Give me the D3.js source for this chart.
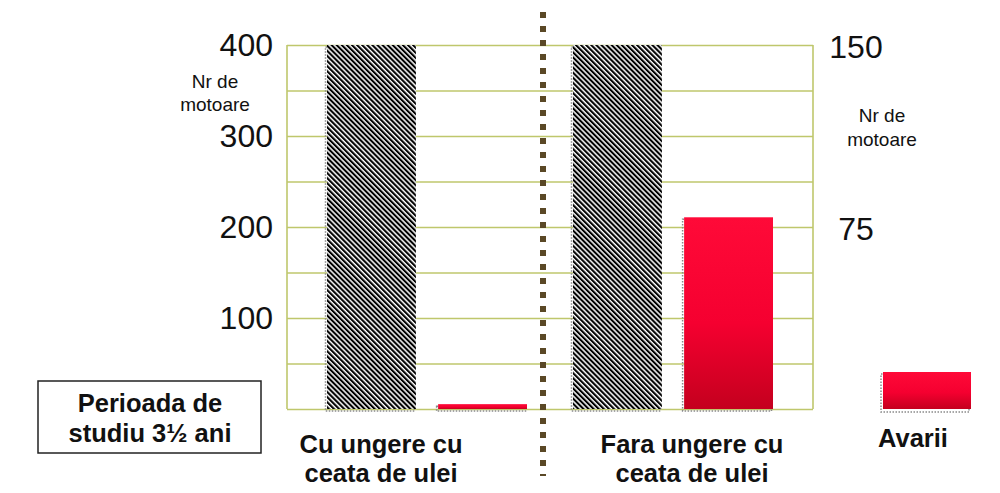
<!DOCTYPE html>
<html>
<head>
<meta charset="utf-8">
<script src="https://cdn.jsdelivr.net/npm/d3@7"></script>
<style>
  body { margin: 0; background: #fff; }
  text { font-family: "Liberation Sans", Arial, sans-serif; fill: #111; }
</style>
</head>
<body>
<div class="chart"></div>
<script>
// data
const groups = ["Cu ungere cu ceata de ulei", "Fara ungere cu ceata de ulei"];
const series = ["Motoare", "Avarii"];
const motoare = [400, 400];      // left axis
const avarii = [2, 79];          // right axis
const leftTicks = [100, 200, 300, 400];
const rightTicks = [75, 150];
const gridTicks = [0, 50, 100, 150, 200, 250, 300, 350, 400];
const groupLabels = [["Cu ungere cu", "ceata de ulei"], ["Fara ungere cu", "ceata de ulei"]];

const W = 1000, H = 493;
const plot = {left: 287, right: 813, top: 45, bottom: 409};
// label centre, relative to group start
const labelShift = [54, 119];

const svg = d3.select('.chart').append('svg')
    .attr('width', W)
    .attr('height', H);

const defs = svg.append('defs');

// diagonal hatch
const hatch = defs.append('pattern')
    .attr('id', 'hatch')
    .attr('patternUnits', 'userSpaceOnUse')
    .attr('width', 3.6)
    .attr('height', 3.6)
    .attr('patternTransform', 'rotate(-45)');
hatch.append('rect').attr('width', 3.6).attr('height', 3.6).attr('fill', '#fff');
hatch.append('rect').attr('width', 2.1).attr('height', 3.6).attr('fill', '#000');

// red gradient
const grad = defs.append('linearGradient')
    .attr('id', 'red')
    .attr('x1', 0).attr('y1', 0).attr('x2', 0).attr('y2', 1);
grad.append('stop').attr('offset', '0%').attr('stop-color', '#ff0a38');
grad.append('stop').attr('offset', '55%').attr('stop-color', '#f50030');
grad.append('stop').attr('offset', '100%').attr('stop-color', '#c4001e');

// scales
const y = d3.scaleLinear().domain([0, 400]).range([plot.bottom, plot.top]);
const yR = d3.scaleLinear().domain([0, 150]).range([plot.bottom, plot.top]);

const x0 = d3.scaleBand()
    .domain(groups)
    .range([plot.left, plot.right])
    .paddingInner(0.187)
    .paddingOuter(0.1626);
const x1 = d3.scaleBand()
    .domain(series)
    .range([0, x0.bandwidth()])
    .paddingInner(0.2);

// grid
const grid = svg.append('g')
    .attr('transform', 'translate(' + plot.left + ',0)')
    .call(d3.axisLeft(y).tickValues(gridTicks).tickSize(-(plot.right - plot.left)).tickFormat(''));
grid.select('.domain').remove();
grid.selectAll('line').attr('stroke', '#bfc76c').attr('stroke-width', 1.6);

svg.append('line')
    .attr('x1', plot.left).attr('x2', plot.left)
    .attr('y1', plot.top).attr('y2', plot.bottom)
    .attr('stroke', '#bfc76c').attr('stroke-width', 1.6);
svg.append('line')
    .attr('x1', plot.right).attr('x2', plot.right)
    .attr('y1', plot.top).attr('y2', plot.bottom)
    .attr('stroke', '#bfc76c').attr('stroke-width', 1.6);

// bars
const rows = groups.map((g, i) => [
    {group: g, key: 'Motoare', top: y(motoare[i])},
    {group: g, key: 'Avarii', top: yR(avarii[i])}
]).flat();

const bars = svg.append('g');

bars.selectAll('.shadow')
    .data(rows)
    .enter().append('rect')
    .attr('class', 'shadow')
    .attr('x', d => x0(d.group) + x1(d.key) - 1.5)
    .attr('y', d => d.top + 2)
    .attr('width', x1.bandwidth())
    .attr('height', d => plot.bottom - d.top)
    .attr('fill', 'none')
    .attr('stroke', '#8a8a8a')
    .attr('stroke-width', 1.5)
    .attr('stroke-dasharray', '1.5,1.5');

bars.selectAll('.bar')
    .data(rows)
    .enter().append('rect')
    .attr('class', 'bar')
    .attr('x', d => x0(d.group) + x1(d.key))
    .attr('y', d => d.top)
    .attr('width', x1.bandwidth())
    .attr('height', d => plot.bottom - d.top)
    .attr('fill', d => d.key === 'Motoare' ? 'url(#hatch)' : 'url(#red)');

// left axis
const axL = svg.append('g')
    .attr('transform', 'translate(' + plot.left + ',0)')
    .call(d3.axisLeft(y).tickValues(leftTicks).tickSize(0).tickPadding(14));
axL.select('.domain').remove();
axL.selectAll('text')
    .style('font-family', '"Liberation Sans", Arial, sans-serif')
    .style('font-size', '32px')
    .attr('fill', '#111');

// right axis
const axR = svg.append('g')
    .attr('transform', 'translate(' + plot.right + ',0)')
    .call(d3.axisRight(yR).tickValues(rightTicks).tickSize(0));
axR.select('.domain').remove();
axR.selectAll('text')
    .attr('x', 43)
    .attr('dy', '0.38em')
    .attr('text-anchor', 'middle')
    .style('font-family', '"Liberation Sans", Arial, sans-serif')
    .style('font-size', '32px')
    .attr('fill', '#111');

// axis titles
const axisTitle = (cx, y1, y2) => {
    const t = svg.append('text').attr('text-anchor', 'middle').style('font-size', '19px');
    t.append('tspan').attr('x', cx).attr('y', y1).text('Nr de');
    t.append('tspan').attr('x', cx).attr('y', y2).text('motoare');
};
axisTitle(215, 88, 111);
axisTitle(882, 122, 146);

// divider
svg.append('line')
    .attr('x1', 543).attr('x2', 543)
    .attr('y1', 12).attr('y2', 476)
    .attr('stroke', '#5a4826')
    .attr('stroke-width', 6)
    .attr('stroke-dasharray', '6,8');

// group labels
svg.selectAll('.glabel')
    .data(groupLabels)
    .enter().append('text')
    .attr('class', 'glabel')
    .attr('text-anchor', 'middle')
    .style('font-size', '25.5px')
    .style('font-weight', 'bold')
    .each(function(d, i) {
        const cx = x0(groups[i]) + labelShift[i];
        d.forEach((line, j) => {
            d3.select(this).append('tspan')
                .attr('x', cx)
                .attr('y', 453 + j * 29)
                .text(line);
        });
    });

// legend
svg.append('rect')
    .attr('x', 881).attr('y', 374)
    .attr('width', 88).attr('height', 38)
    .attr('fill', 'none')
    .attr('stroke', '#8a8a8a')
    .attr('stroke-width', 1.5)
    .attr('stroke-dasharray', '1.5,1.5');
svg.append('rect')
    .attr('x', 883).attr('y', 372)
    .attr('width', 88).attr('height', 37)
    .attr('fill', 'url(#red)');
svg.append('text')
    .attr('x', 913).attr('y', 447)
    .attr('text-anchor', 'middle')
    .style('font-size', '25.5px')
    .style('font-weight', 'bold')
    .text('Avarii');

// study period box
svg.append('rect')
    .attr('x', 38).attr('y', 381)
    .attr('width', 223).attr('height', 72)
    .attr('fill', '#fff')
    .attr('stroke', '#222')
    .attr('stroke-width', 1.5);
const box = svg.append('text')
    .attr('text-anchor', 'middle')
    .style('font-size', '25.5px')
    .style('font-weight', 'bold');
box.append('tspan').attr('x', 150).attr('y', 412).text('Perioada de');
box.append('tspan').attr('x', 150).attr('y', 442).text('studiu 3½ ani');
</script>
</body>
</html>
